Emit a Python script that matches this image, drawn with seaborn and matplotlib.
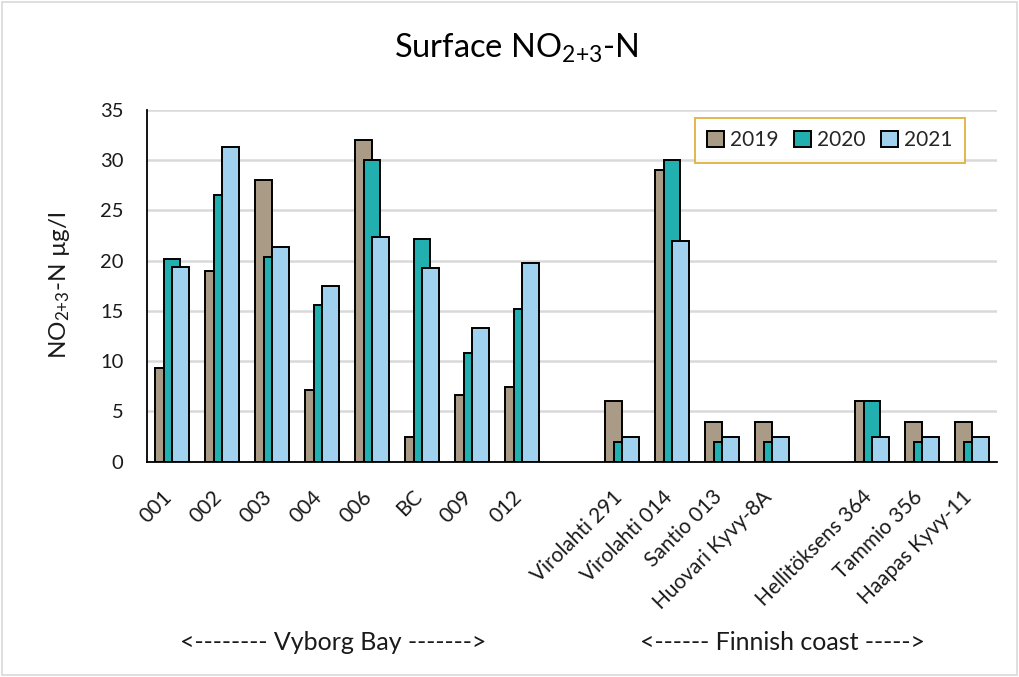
import matplotlib
matplotlib.use("Agg")
import matplotlib.pyplot as plt
import matplotlib.patches as mpatches
import matplotlib.transforms as mtransforms
import numpy as np
import pandas as pd
import seaborn as sns

# Stations (two empty slots separate the station groups on the axis)
stations = ["001", "002", "003", "004", "006", "BC", "009", "012",
            "Virolahti 291", "Virolahti 014", "Santio 013", "Huovari Kyvy-8A",
            "Hellitöksens 364", "Tammio 356", "Haapas Kyvy-11"]
slots = [0, 1, 2, 3, 4, 5, 6, 7, 9, 10, 11, 12, 14, 15, 16]

years = ["2019", "2020", "2021"]
no23_2019 = [9.3, 19.0, 28.0, 7.1, 32.0, 2.5, 6.6, 7.4, 6.0, 29.0, 4.0, 4.0, 6.0, 4.0, 4.0]
no23_2020 = [20.2, 26.5, 20.4, 15.6, 30.0, 22.2, 10.8, 15.2, 2.0, 30.0, 2.0, 2.0, 6.0, 2.0, 2.0]
no23_2021 = [19.4, 31.3, 21.4, 17.5, 22.4, 19.3, 13.3, 19.8, 2.5, 22.0, 2.5, 2.5, 2.5, 2.5, 2.5]

colors = {"2019": "#AA9B87", "2020": "#22AFAF", "2021": "#A0D2F0"}
offsets = {"2019": -0.167, "2020": 0.0, "2021": 0.167}

sns.set_theme(style="white")
plt.rcParams["font.family"] = ["Lato", "DejaVu Sans"]
plt.rcParams["mathtext.fontset"] = "custom"
plt.rcParams["mathtext.rm"] = "Lato"
plt.rcParams["mathtext.it"] = "Lato:italic"
plt.rcParams["mathtext.bf"] = "Lato:bold"

fig = plt.figure(figsize=(10.19, 6.77), dpi=100)
ax = fig.add_axes([147 / 1019, 1 - 461.7 / 677, (997 - 147) / 1019, (461.7 - 110) / 677])

for yr, vals in zip(years, [no23_2019, no23_2020, no23_2021]):
    df = pd.DataFrame({"pos": np.array(slots) + offsets[yr], "value": vals})
    sns.barplot(data=df, x="pos", y="value", native_scale=True, width=0.33,
                color=colors[yr], saturation=1, edgecolor="black", linewidth=1.4,
                label=yr, ax=ax, zorder=2)

ax.set_xlim(-0.5, 16.5)
ax.set_ylim(0, 35)
ax.set_yticks(np.arange(0, 36, 5))
ax.yaxis.grid(True, color="#D9D9D9", linewidth=1.8, zorder=0)
ax.xaxis.grid(False)
ax.set_axisbelow(True)
ax.tick_params(axis="y", labelsize=14.5, length=0, pad=17, colors="#1a1a1a")
ax.set_xticks(slots)
ax.set_xticklabels(stations, rotation=45, ha="right", fontsize=15, color="#1a1a1a")
ax.tick_params(axis="x", length=0, pad=18)
shift = mtransforms.ScaledTranslation(4 / 100, 0, fig.dpi_scale_trans)
for lbl in ax.get_xticklabels():
    lbl.set_transform(lbl.get_transform() + shift)
for s in ["top", "right"]:
    ax.spines[s].set_visible(False)
for s in ["left", "bottom"]:
    ax.spines[s].set_color("black")
    ax.spines[s].set_linewidth(1.3)
ax.set_xlabel("")
ax.set_ylabel("NO$_{2{+}3}$-N µg/l", fontsize=17.5, labelpad=20, color="#1a1a1a")

fig.text(516 / 1019, 1 - 48 / 677, "Surface NO$_{2{+}3}$-N", ha="center", va="center",
         fontsize=23.5, color="black")

# Group captions below the station labels
fig.text(333 / 1019, 1 - 643 / 677, "<-------- Vyborg Bay ------->", ha="center",
         va="center", fontsize=18, color="#1a1a1a")
fig.text(782 / 1019, 1 - 643 / 677, "<------ Finnish coast ----->", ha="center",
         va="center", fontsize=18, color="#1a1a1a")

handles = [mpatches.Patch(facecolor=colors[y], edgecolor="black", linewidth=1.4, label=y)
           for y in years]
leg = ax.legend(handles=handles, loc="upper right", ncol=3,
                bbox_to_anchor=(965 / 1019, 1 - 118 / 677), bbox_transform=fig.transFigure,
                fontsize=15, frameon=True, fancybox=False, handlelength=0.8,
                handleheight=0.8, handletextpad=0.3, columnspacing=0.75,
                borderpad=0.6, borderaxespad=0)
leg.get_frame().set_edgecolor("#DAA520")
leg.get_frame().set_linewidth(1.4)

# Light border around the whole chart area
fig.patches.append(mpatches.Rectangle((0.002, 0.003), 0.996, 0.994, transform=fig.transFigure,
                                      fill=False, edgecolor="#D9D9D9", linewidth=1.2))

fig.savefig("out.png", dpi=100)
